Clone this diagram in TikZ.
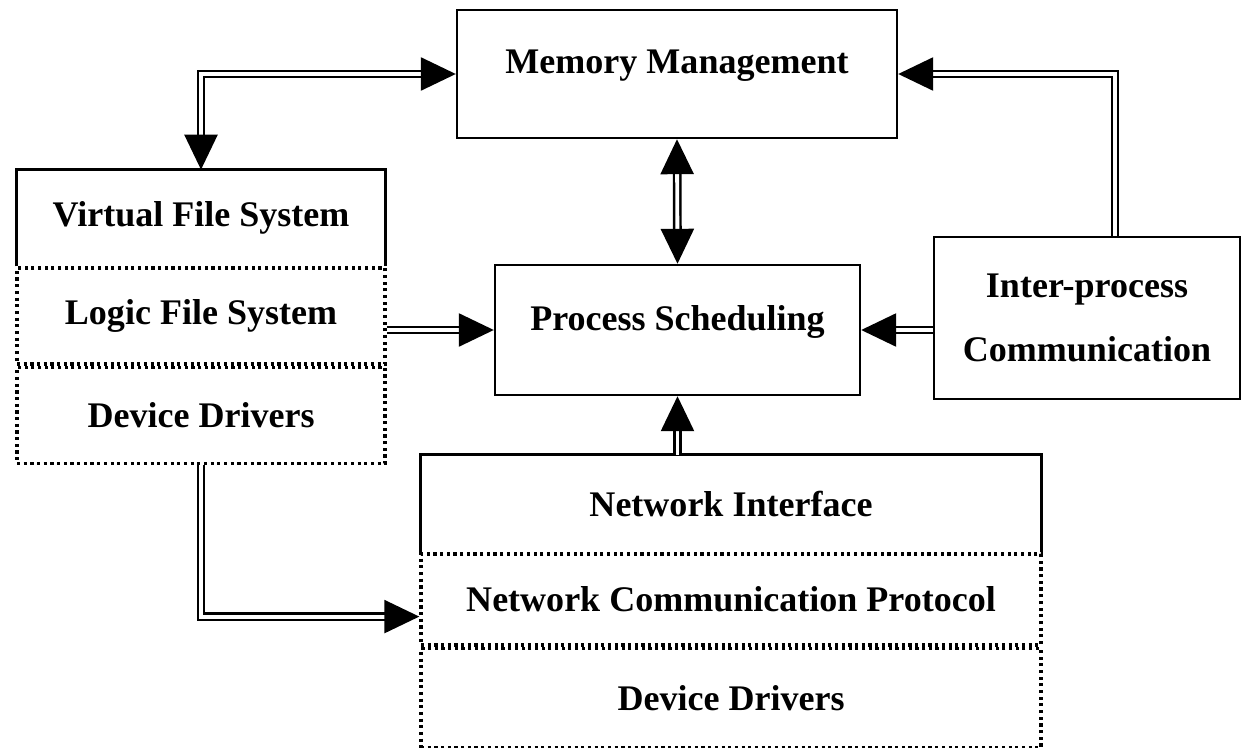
\documentclass[tikz,border=0pt]{standalone}
\usepackage{fontspec}
\setmainfont{Liberation Serif}
\usetikzlibrary{arrows.meta}

\begin{document}
\begin{tikzpicture}[x=0.02cm,y=-0.02cm,
    every node/.style={font=\bfseries\fontsize{20.5}{24}\selectfont,inner sep=0pt},
    solidbox/.style={draw,line width=1.4pt},
    dotbox/.style={draw,line width=2pt,dash pattern=on 1.8pt off 2pt},
    link/.style={double,line width=1.4pt,double distance=2.2pt,-{Triangle[length=0.7cm,width=0.66cm]}},
    twoway/.style={double,line width=1.4pt,double distance=2.2pt,{Triangle[length=0.7cm,width=0.66cm]}-{Triangle[length=0.7cm,width=0.66cm]}}]
  \useasboundingbox (0,0) rectangle (1247,747);

  % core boxes
  \node[solidbox,minimum width=8.8cm,minimum height=2.56cm,text depth=0.5cm] (mem) at (677,74) {Memory Management};
  \node[solidbox,minimum width=7.3cm,minimum height=2.6cm,text depth=0.5cm] (ps) at (677.5,330) {Process Scheduling};
  \node[solidbox,minimum width=6.12cm,minimum height=3.24cm,align=center,
        font=\bfseries\fontsize{20.5}{36}\selectfont] (ipc) at (1087,318) {Inter-process\\Communication};

  % file system stack
  \node[minimum width=7.36cm,minimum height=1.92cm] (vfs) at (201,218) {Virtual File System};
  \draw[line width=1.4pt] (vfs.south west) |- (vfs.north east) -- (vfs.south east);
  \node[dotbox,anchor=north,minimum width=7.36cm,minimum height=1.92cm] (lfs) at (vfs.south) {Logic File System};
  \node[dotbox,anchor=north,minimum width=7.36cm,minimum height=1.92cm] (fsdd) at (lfs.south) {Device Drivers};

  % network stack
  \node[minimum width=12.4cm,minimum height=1.94cm] (ni) at (731,503.5) {Network Interface};
  \draw[line width=1.4pt] (ni.south west) |- (ni.north east) -- (ni.south east);
  \node[dotbox,anchor=north,minimum width=12.4cm,minimum height=1.82cm] (ncp) at (ni.south) {Network Communication Protocol};
  \node[dotbox,anchor=north,minimum width=12.4cm,minimum height=1.98cm] (netdd) at (ncp.south) {Device Drivers};

  % connectors
  \draw[twoway] (vfs.north) |- (mem.west);
  \draw[twoway] (mem.south) -- (ps.north);
  \draw[link] ([xshift=0.56cm]ipc.north) |- (mem.east);
  \draw[link] (ipc.west |- ps.east) -- (ps.east);
  \draw[link] (lfs.east |- ps.west) -- (ps.west);
  \draw[link] (ni.north -| ps.south) -- (ps.south);
  \draw[link] (fsdd.south) |- ([yshift=-0.34cm]ncp.west);
\end{tikzpicture}
\end{document}
